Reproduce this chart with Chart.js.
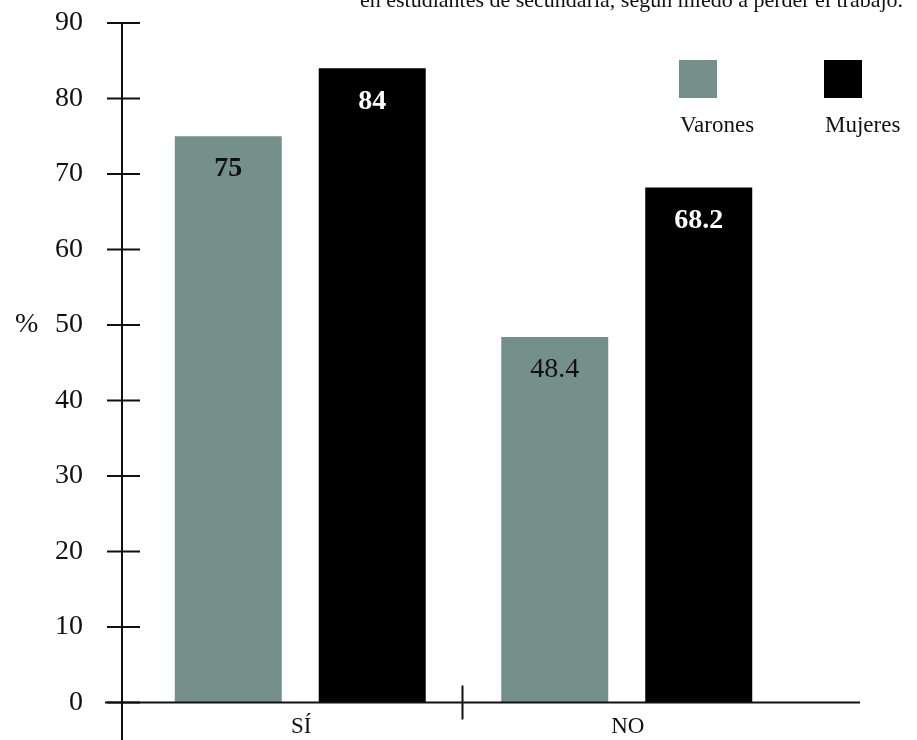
<!DOCTYPE html>
<html>
<head>
<meta charset="utf-8">
<script src="https://cdn.jsdelivr.net/npm/chart.js@4.4.0/dist/chart.umd.min.js"></script>
<style>
  html, body { margin: 0; padding: 0; background: #ffffff; }
  canvas { display: block; }
</style>
</head>
<body>
<canvas id="miedoChart" width="917" height="740"></canvas>
<script>
// Data
const categories = ['SÍ', 'NO'];
const varones = [75, 48.4];
const mujeres = [84, 68.2];
const yTicks = [0, 10, 20, 30, 40, 50, 60, 70, 80, 90];
const seriesNames = ['Varones', 'Mujeres'];
const titleText = 'en estudiantes de secundaria, según miedo a perder el trabajo.';

const serif = "'Liberation Serif', 'DejaVu Serif', 'Times New Roman', serif";
const green = 'rgb(116, 144, 137)';
const ink = '#111111';

// Axes, ticks, labels, legend and value labels drawn by hand on top of the library's scales
const decorPlugin = {
    id: 'decor',
    afterDraw(chart) {
        const ctx = chart.ctx;
        const x = chart.scales.x;
        const y = chart.scales.y;
        const y0 = y.getPixelForValue(0);
        const axisX = 122;

        ctx.save();
        ctx.strokeStyle = ink;
        ctx.lineWidth = 2;

        // y axis line
        ctx.beginPath();
        ctx.moveTo(axisX, y.getPixelForValue(90));
        ctx.lineTo(axisX, 740);
        ctx.stroke();

        // x axis line
        ctx.beginPath();
        ctx.moveTo(105, y0);
        ctx.lineTo(860, y0);
        ctx.stroke();

        // y ticks + labels
        ctx.fillStyle = ink;
        ctx.font = '28px ' + serif;
        ctx.textAlign = 'right';
        ctx.textBaseline = 'middle';
        yTicks.forEach(v => {
            const py = y.getPixelForValue(v);
            ctx.beginPath();
            ctx.moveTo(107, py);
            ctx.lineTo(140, py);
            ctx.stroke();
            ctx.fillText(String(v), 83, py);
        });

        // % unit
        ctx.textAlign = 'left';
        ctx.fillText('%', 15, y.getPixelForValue(50));

        // category separators
        for (let i = 0; i < categories.length - 1; i++) {
            const sx = (x.getPixelForValue(i) + x.getPixelForValue(i + 1)) / 2 - 1;
            ctx.beginPath();
            ctx.moveTo(sx, y0 - 17);
            ctx.lineTo(sx, y0 + 17);
            ctx.stroke();
        }

        // category labels
        ctx.font = '23px ' + serif;
        ctx.textAlign = 'center';
        categories.forEach((c, i) => {
            ctx.fillText(c, x.getPixelForValue(i) + 1, 727);
        });

        // value labels inside the bars
        const varonesWeight = ['bold', 'normal'];
        chart.data.datasets.forEach((ds, di) => {
            const meta = chart.getDatasetMeta(di);
            meta.data.forEach((bar, i) => {
                const weight = di === 0 ? varonesWeight[i] : 'bold';
                ctx.font = weight + ' 28px ' + serif;
                ctx.fillStyle = di === 0 ? ink : '#ffffff';
                ctx.textAlign = 'center';
                ctx.textBaseline = 'middle';
                ctx.fillText(String(ds.data[i]), bar.x, bar.y + 33);
            });
        });

        // legend: square above name
        const legendX = [679, 824];
        const colors = [green, '#000000'];
        ctx.font = '23px ' + serif;
        ctx.textAlign = 'left';
        ctx.textBaseline = 'alphabetic';
        seriesNames.forEach((name, i) => {
            ctx.fillStyle = colors[i];
            ctx.fillRect(legendX[i], 60, 38, 38);
            ctx.fillStyle = ink;
            ctx.fillText(name, legendX[i] + 1, 132);
        });

        // cut-off title at the top edge
        ctx.font = '22px ' + serif;
        ctx.fillStyle = ink;
        ctx.fillText(titleText, 360, 7);

        ctx.restore();
    }
};

new Chart(document.getElementById('miedoChart').getContext('2d'), {
    type: 'bar',
    data: {
        labels: categories,
        datasets: [
            {
                label: seriesNames[0],
                data: varones,
                backgroundColor: green,
                borderWidth: 0
            },
            {
                label: seriesNames[1],
                data: mujeres,
                backgroundColor: '#000000',
                borderWidth: 0
            }
        ]
    },
    options: {
        responsive: false,
        animation: false,
        devicePixelRatio: 1,
        categoryPercentage: 0.882,
        barPercentage: 0.743,
        layout: {
            padding: { left: 137, right: 127, top: 23, bottom: 37.5 }
        },
        plugins: {
            legend: { display: false },
            title: { display: false },
            tooltip: { enabled: false }
        },
        scales: {
            x: { display: false, offset: true },
            y: { display: false, min: 0, max: 90 }
        }
    },
    plugins: [decorPlugin]
});
</script>
</body>
</html>
